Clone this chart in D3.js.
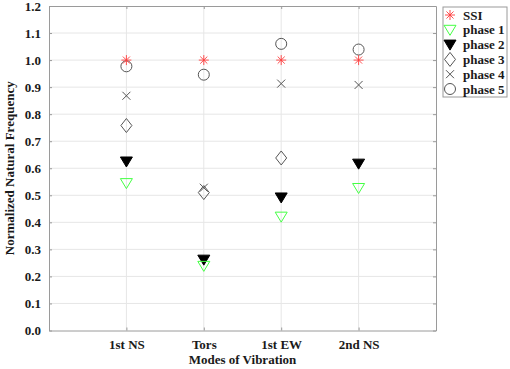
<!DOCTYPE html>
<html lang="en">
<head>
<meta charset="utf-8">
<title>Normalized natural frequency</title>
<script src="https://cdn.jsdelivr.net/npm/d3@7"></script>
<style>
  body { margin: 0; background: #fff; }
  svg text { font-family: "Liberation Serif", "Times New Roman", serif; font-weight: bold; fill: #1a1a1a; }
  .grid line { stroke: #e6e6e6; stroke-width: 1; }
  .axis path, .axis line { stroke: #9a9a9a; }
</style>
</head>
<body>
<script>
// data
var modes = ["1st NS", "Tors", "1st EW", "2nd NS"];
var yTicks = [0, 0.1, 0.2, 0.3, 0.4, 0.5, 0.6, 0.7, 0.8, 0.9, 1.0, 1.1, 1.2];
var seriesNames = ["SSI", "phase 1", "phase 2", "phase 3", "phase 4", "phase 5"];
var ssi    = [1.0, 1.0, 1.0, 1.0];
var phase1 = [0.545, 0.239, 0.421, 0.527];
var phase2 = [0.625, 0.262, 0.492, 0.617];
var phase3 = [0.758, 0.510, 0.638, null];
var phase4 = [0.868, 0.528, 0.913, 0.908];
var phase5 = [0.977, 0.946, 1.060, 1.039];

var w = 510, h = 369;
var plotL = 49, plotR = 436, plotT = 6, plotB = 330.5;

var svg = d3.select("body").append("svg")
    .attr("width", w)
    .attr("height", h);

var x = d3.scaleLinear().domain([0, 5]).range([plotL, plotR]);
var y = d3.scaleLinear().domain([0, 1.2]).range([plotB, plotT]);

// grid
var grid = svg.append("g").attr("class", "grid");
grid.selectAll(".gy").data(yTicks.slice(1, -1)).enter().append("line")
    .attr("x1", plotL).attr("x2", plotR)
    .attr("y1", function(d){ return y(d); }).attr("y2", function(d){ return y(d); });
grid.selectAll(".gx").data(modes).enter().append("line")
    .attr("y1", plotT).attr("y2", plotB)
    .attr("x1", function(d, i){ return x(i + 1); }).attr("x2", function(d, i){ return x(i + 1); });

// axes (box on, ticks inside)
var xAxis = d3.axisBottom(x).tickValues([1, 2, 3, 4])
    .tickFormat(function(d){ return modes[d - 1]; })
    .tickSizeInner(-3).tickSizeOuter(0).tickPadding(9);
var xTop = d3.axisTop(x).tickValues([1, 2, 3, 4]).tickFormat("")
    .tickSizeInner(-3).tickSizeOuter(0);
var yAxis = d3.axisLeft(y).tickValues(yTicks).tickFormat(d3.format(".1f"))
    .tickSizeInner(-3).tickSizeOuter(0).tickPadding(8);
var yRight = d3.axisRight(y).tickValues(yTicks).tickFormat("")
    .tickSizeInner(-3).tickSizeOuter(0);

svg.append("g").attr("class", "axis").attr("transform", "translate(0," + plotB + ")").call(xAxis);
svg.append("g").attr("class", "axis").attr("transform", "translate(0," + plotT + ")").call(xTop);
svg.append("g").attr("class", "axis").attr("transform", "translate(" + plotL + ",0)").call(yAxis);
svg.append("g").attr("class", "axis").attr("transform", "translate(" + plotR + ",0)").call(yRight);
svg.selectAll(".axis text").style("font-size", "13px").style("font-family", "'Liberation Serif', serif");

// axis titles
svg.append("text").attr("x", (plotL + plotR) / 2).attr("y", 364)
    .attr("text-anchor", "middle").style("font-size", "13px")
    .text("Modes of Vibration");
svg.append("text").attr("transform", "translate(14," + ((plotT + plotB) / 2) + ") rotate(-90)")
    .attr("text-anchor", "middle").style("font-size", "13px")
    .text("Normalized Natural Frequency");

// marker drawers
function drawMarker(g, k) {
  if (k === 0) { // asterisk
    var r = 5;
    [0, 45, 90, 135].forEach(function(a){
      var t = a * Math.PI / 180;
      g.append("line").attr("x1", -r * Math.cos(t)).attr("y1", -r * Math.sin(t))
        .attr("x2", r * Math.cos(t)).attr("y2", r * Math.sin(t))
        .attr("stroke", "#ff3b3b").attr("stroke-width", 0.9);
    });
  } else if (k === 1 || k === 2) { // down triangle
    g.append("path").attr("d", "M-6,-4.5L6,-4.5L0,5.5Z")
      .attr("fill", k === 2 ? "#000" : "none")
      .attr("stroke", k === 2 ? "#000" : "#44ff44").attr("stroke-width", 1);
  } else if (k === 3) { // diamond
    g.append("path").attr("d", "M0,-7L5.5,0L0,7L-5.5,0Z")
      .attr("fill", "none").attr("stroke", "#555").attr("stroke-width", 1);
  } else if (k === 4) { // cross
    g.append("path").attr("d", "M-4,-4L4,4M-4,4L4,-4")
      .attr("stroke", "#555").attr("stroke-width", 1);
  } else { // circle
    g.append("circle").attr("r", 5.5)
      .attr("fill", "none").attr("stroke", "#555").attr("stroke-width", 1);
  }
}

var allSeries = [ssi, phase1, phase2, phase3, phase4, phase5];
// draw so SSI sits on top of the others
[5, 4, 3, 2, 1, 0].forEach(function(k){
  svg.append("g").selectAll("g")
    .data(allSeries[k].map(function(v, i){ return {i: i, v: v}; })
      .filter(function(d){ return d.v !== null; }))
    .enter().append("g")
    .attr("transform", function(d){ return "translate(" + x(d.i + 1) + "," + y(d.v) + ")"; })
    .each(function(){ drawMarker(d3.select(this), k); });
});

// legend
var leg = svg.append("g").attr("transform", "translate(443,7)");
leg.append("rect").attr("width", 64).attr("height", 90)
  .attr("fill", "#fff").attr("stroke", "#9a9a9a");
seriesNames.forEach(function(name, k){
  var row = leg.append("g").attr("transform", "translate(0," + (8 + k * 14.8) + ")");
  drawMarker(row.append("g").attr("transform", "translate(7,0)"), k);
  row.append("text").attr("x", 20).attr("y", 4.5).style("font-size", "13px").text(name);
});
</script>
</body>
</html>
